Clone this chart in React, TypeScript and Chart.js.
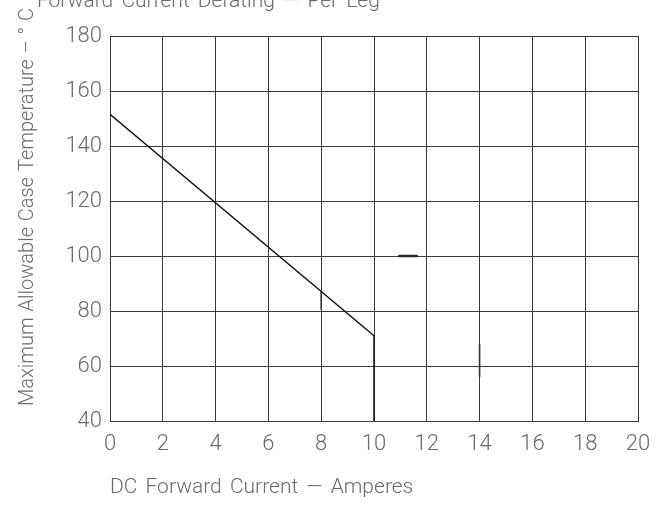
import React, { useEffect, useRef } from "react";
import { Chart, registerables } from "chart.js";

Chart.register(...registerables);

// Derating curve (DC forward current in A vs max case temperature in °C)
const currentA = [0, 10, 10];
const caseTempC = [151.5, 71, 40];

// Small extra strokes visible in the scanned datasheet
const barMarkA = [10.92, 11.66];
const barMarkC = [100, 100];
const faintMarkA = [8, 8, 8, 14, 14];
const faintMarkC = [80.5, 87, null, 56, 68];

const xTicks = [0, 2, 4, 6, 8, 10, 12, 14, 16, 18, 20];
const yTicks = [40, 60, 80, 100, 120, 140, 160, 180];

const titleText = "Forward Current Derating \u2014 Per Leg";
const xTitle = "DC Forward Current \u2014 Amperes";
const yTitle = "Maximum Allowable Case Temperature \u2013 \u00B0 C";

const FONT = "Roboto, 'DejaVu Sans', sans-serif";
const TEXT = "#6a6a6a";

export default function App() {
  const ref = useRef<HTMLCanvasElement | null>(null);

  useEffect(() => {
    if (!ref.current) return;
    const textPlugin = {
      id: "texts",
      afterDraw(chart: any) {
        const ctx = chart.ctx;
        ctx.save();
        ctx.fillStyle = TEXT;
        ctx.font = `300 21px ${FONT}`;
        ctx.textAlign = "left";
        ctx.textBaseline = "alphabetic";
        try {
          (ctx as any).wordSpacing = "3px";
          (ctx as any).letterSpacing = "0px";
        } catch (e) {}
        ctx.fillText(titleText, 37, 7);
        ctx.fillText(xTitle, 110, 493);
        ctx.font = `300 20px ${FONT}`;
        try {
          (ctx as any).wordSpacing = "1px";
        } catch (e) {}
        const w = ctx.measureText(yTitle).width;
        ctx.translate(33, 8 + w);
        ctx.rotate(-Math.PI / 2);
        ctx.fillText(yTitle, 0, 0);
        ctx.restore();
      },
    };
    const chart = new Chart(ref.current, {
      type: "scatter",
      data: {
        datasets: [
          {
            data: currentA.map((x, i) => ({ x, y: caseTempC[i] })),
            showLine: true,
            borderColor: "#111",
            borderWidth: 1.5,
            pointRadius: 0,
            tension: 0,
          },
          {
            data: barMarkA.map((x, i) => ({ x, y: barMarkC[i] })),
            showLine: true,
            borderColor: "#2a2a2a",
            borderWidth: 2.5,
            pointRadius: 0,
          },
          {
            data: faintMarkA.map((x, i) => ({ x, y: faintMarkC[i] as any })),
            showLine: true,
            spanGaps: false,
            borderColor: "#333",
            borderWidth: 1.6,
            pointRadius: 0,
          },
        ],
      },
      options: {
        animation: false,
        responsive: false,
        devicePixelRatio: 1,
        layout: { padding: { left: 0, right: 27, top: 36, bottom: 0 } },
        plugins: { legend: { display: false }, tooltip: { enabled: false } },
        scales: {
          x: {
            type: "linear",
            min: 0,
            max: 20,
            afterBuildTicks: (s: any) => {
              s.ticks = xTicks.map((v) => ({ value: v }));
            },
            afterFit: (s: any) => {
              s.height = 84;
            },
            grid: { color: "#3a3a3a", lineWidth: 1, drawTicks: false },
            border: { color: "#3a3a3a", width: 1 },
            ticks: {
              color: TEXT,
              font: { family: FONT, size: 22, weight: "300" as any },
              padding: 10,
              maxRotation: 0,
              autoSkip: false,
            },
          },
          y: {
            type: "linear",
            min: 40,
            max: 180,
            afterBuildTicks: (s: any) => {
              s.ticks = yTicks.map((v) => ({ value: v }));
            },
            afterFit: (s: any) => {
              s.width = 110;
            },
            grid: { color: "#3a3a3a", lineWidth: 1, drawTicks: false },
            border: { color: "#3a3a3a", width: 1 },
            ticks: {
              color: TEXT,
              font: { family: FONT, size: 22, weight: "300" as any },
              padding: 8,
              autoSkip: false,
            },
          },
        },
      },
      plugins: [textPlugin],
    });
    return () => chart.destroy();
  }, []);

  return (
    <div style={{ position: "absolute", left: 0, top: 0, width: 665, height: 505, background: "#fff" }}>
      <canvas ref={ref} width={665} height={505} style={{ display: "block" }} />
    </div>
  );
}
